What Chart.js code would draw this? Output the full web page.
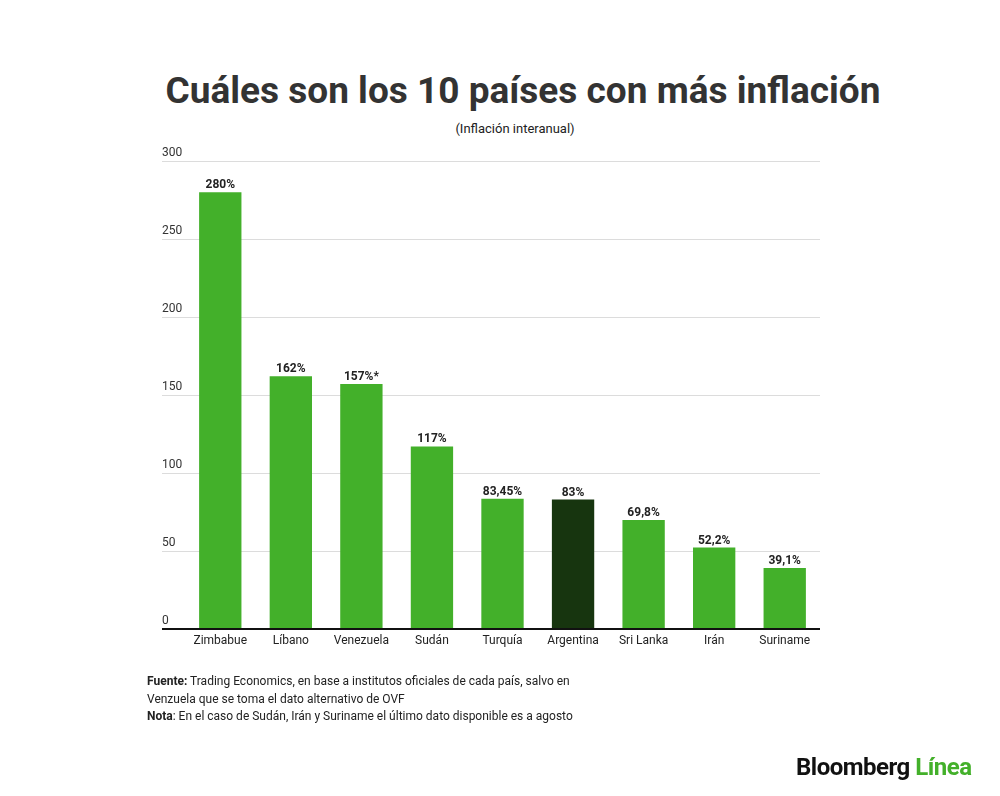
<!DOCTYPE html>
<html lang="es">
<head>
<meta charset="UTF-8">
<title>Inflación</title>
<script src="https://cdn.jsdelivr.net/npm/chart.js"></script>
<style>
  body { margin: 0; width: 1000px; height: 796px; background: #fff; font-family: Roboto, sans-serif; position: relative; overflow: hidden; }
  #chart { position: absolute; left: 0; top: 0; }
  .title { position: absolute; top: 69px; left: 0; width: 1046px; text-align: center; font-size: 37px; font-weight: bold; color: #333; }
  .sub { position: absolute; top: 121px; left: 0; width: 1030px; text-align: center; font-size: 13px; color: #222; }
  .foot { position: absolute; left: 147px; top: 673px; font-size: 12px; line-height: 17.5px; color: #222; }
  .logo { position: absolute; left: 796px; top: 753px; font-size: 24px; font-weight: bold; letter-spacing: -0.5px; color: #111; }
  .logo span { color: #43b02a; }
</style>
</head>
<body>
<div class="title">Cuáles son los 10 países con más inflación</div>
<div class="sub">(Inflación interanual)</div>
<canvas id="chart" width="1000" height="796"></canvas>
<div class="foot"><b>Fuente:</b> Trading Economics, en base a institutos oficiales de cada país, salvo en<br>Venzuela que se toma el dato alternativo de OVF<br><b>Nota</b>: En el caso de Sudán, Irán y Suriname el último dato disponible es a agosto</div>
<div class="logo">Bloomberg <span>Línea</span></div>
<script>
const countries = ['Zimbabue', 'Líbano', 'Venezuela', 'Sudán', 'Turquía', 'Argentina', 'Sri Lanka', 'Irán', 'Suriname'];
const inflation = [280, 162, 157, 117, 83.45, 83, 69.8, 52.2, 39.1];
const valueLabels = ['280%', '162%', '157%*', '117%', '83,45%', '83%', '69,8%', '52,2%', '39,1%'];
const yTicks = [0, 50, 100, 150, 200, 250, 300];
const barColors = countries.map(c => c === 'Argentina' ? '#17350f' : '#43b02a');

const decor = {
  id: 'decor',
  beforeDatasetsDraw(chart) {
    const { ctx, chartArea, scales } = chart;
    ctx.save();
    ctx.font = '12px Roboto';
    ctx.fillStyle = '#333';
    ctx.textAlign = 'left';
    ctx.textBaseline = 'bottom';
    yTicks.forEach(v => {
      const y = Math.round(scales.y.getPixelForValue(v)) + 0.5;
      if (v > 0) {
        ctx.strokeStyle = '#dcdcdc';
        ctx.lineWidth = 1;
        ctx.beginPath(); ctx.moveTo(162, y); ctx.lineTo(chartArea.right, y); ctx.stroke();
      }
      ctx.fillText(String(v), 162, y - 3);
    });
    ctx.restore();
  },
  afterDatasetsDraw(chart) {
    const { ctx, chartArea, scales } = chart;
    const meta = chart.getDatasetMeta(0);
    ctx.save();
    ctx.strokeStyle = '#111';
    ctx.lineWidth = 2;
    const y0 = scales.y.getPixelForValue(0);
    ctx.beginPath(); ctx.moveTo(162, y0); ctx.lineTo(chartArea.right, y0); ctx.stroke();
    ctx.textAlign = 'center';
    ctx.fillStyle = '#222';
    ctx.font = '12px Roboto';
    ctx.textBaseline = 'middle';
    countries.forEach((c, i) => ctx.fillText(c, meta.data[i].x, y0 + 12));
    ctx.font = 'bold 12px Roboto';
    ctx.textBaseline = 'bottom';
    meta.data.forEach((bar, i) => ctx.fillText(valueLabels[i], bar.x, bar.y - 1));
    ctx.restore();
  }
};

new Chart(document.getElementById('chart'), {
  type: 'bar',
  data: {
    labels: countries,
    datasets: [{ data: inflation, backgroundColor: barColors, borderWidth: 0, barPercentage: 0.6, categoryPercentage: 1 }]
  },
  options: {
    responsive: false,
    animation: false,
    layout: { padding: { left: 185, right: 180, top: 161, bottom: 167 } },
    plugins: { legend: { display: false }, tooltip: { enabled: false } },
    scales: {
      x: { display: false },
      y: { display: false, min: 0, max: 300 }
    }
  },
  plugins: [decor]
});
</script>
</body>
</html>
